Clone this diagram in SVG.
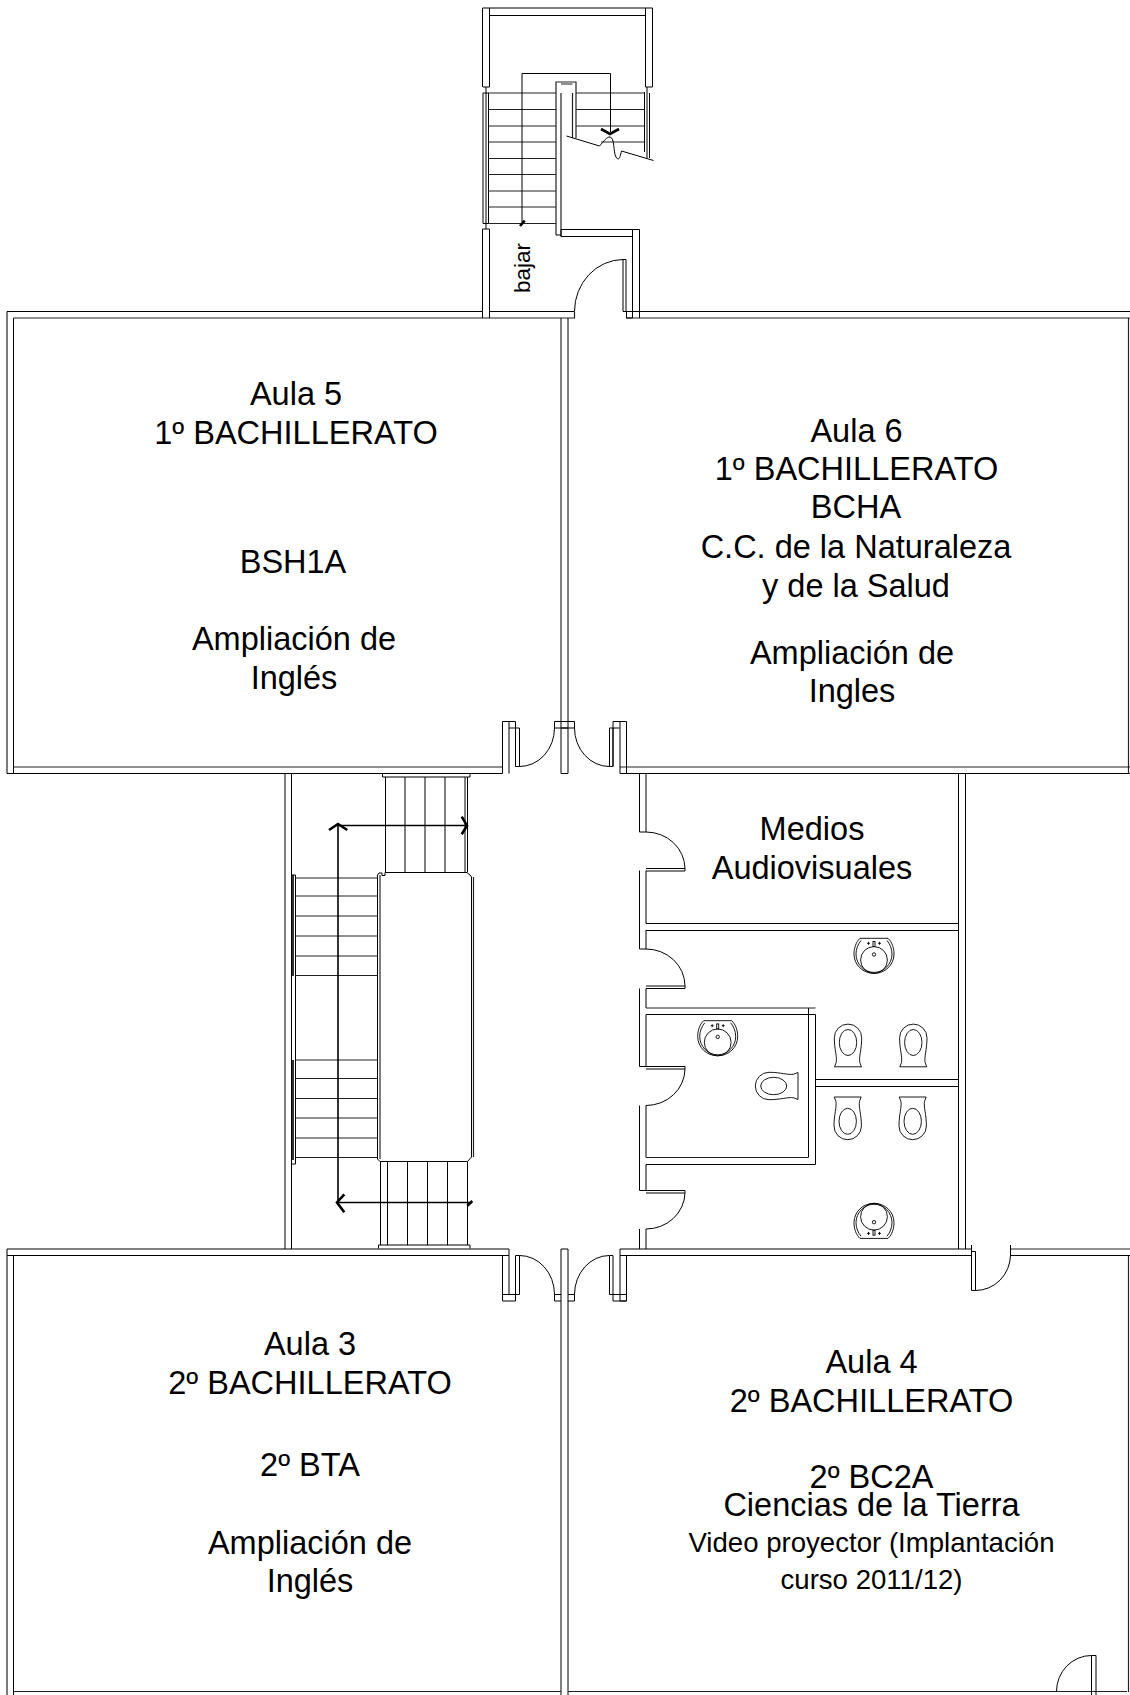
<svg xmlns="http://www.w3.org/2000/svg" width="1130" height="1695" viewBox="0 0 1130 1695">
<style>
.l{fill:none;stroke:#000;stroke-width:1}
.g{fill:none;stroke:#222;stroke-width:1.2}
.t{fill:none;stroke:#222;stroke-width:1}
.h{fill:none;stroke:#000;stroke-width:1.6}
.a{fill:none;stroke:#000;stroke-width:2.6}
text{font-family:"Liberation Sans",Arial,sans-serif;font-size:32.5px;fill:#000;text-anchor:middle}
.s{font-size:27.6px}
</style>
<defs>
<g id="sink" class="l" style="stroke-width:.9">
<path d="M-14,-21.7H14C18,-18 20,-12 20,-6C20,5 11,13.4 0,13.4C-11,13.4 -20,5 -20,-6C-20,-12 -18,-18 -14,-21.7Z"/>
<path d="M-13,-19.5C-16,-16 -18,-11 -18,-6C-18,4 -10,12.4 0,12.4C10,12.4 18,4 18,-6C18,-11 16,-16 13,-19.5"/>
<circle r="13.4"/>
<circle cy="-5.5" r="1.7"/>
<path d="M-7,-16.7H-4M-5.5,-18.2V-15.2M4,-16.7H7M5.5,-18.2V-15.2"/>
<rect x="-1" y="-18.5" width="2" height="5"/>
</g>
<g id="wc" class="l" style="stroke-width:.9">
<path d="M-13.5,-24.3H13.5L11.8,-20C10.8,-14 13.7,-7 13.7,4.7A13.7,13.7 0 0 1 -13.7,4.7C-13.7,-7 -10.8,-14 -11.8,-20Z"/>
<ellipse rx="8.7" ry="13"/>
</g>
</defs>
<g id="walls">
<path class="g" d="M7,311.5V773.5"/>
<path class="l" d="M7,773.5H502.5M13.5,318V773.5M7,311.5H482.5"/>
<path class="g" d="M13.5,318H574.5V312"/>
<path class="l" d="M489.5,311.5H574.5M626,311.5H1130"/>
<path class="g" d="M626,318H1130"/>
<path class="g" d="M13.5,767H502.5"/>
<path class="l" d="M561,318V773.5H568V318"/>
<path class="l" d="M620,773.5H1130"/>
<path class="g" d="M620,767H1130"/>
<path class="g" d="M1128.5,318V773M1128.5,1256V1692"/>
<path class="l" d="M285,773.5V1249M291.5,773.5V1249"/>
<path class="l" d="M639.5,773.5V832H646M646,773.5V832M639.5,870.5V949H646M646,870.5V923.5M646,930V949M639.5,988.5V1066.5H646M646,988.5V1008M646,1014.5V1066.5M639.5,1105.5V1190.5H646M646,1105.5V1157.5M646,1164.5V1190.5M639.5,1229V1249M646,1229V1249"/>
<path class="l" d="M958.5,773.5V1249M965.5,773.5V1249"/>
<path class="l" d="M646,923.5H958.5M646,930.5H958.5"/>
<path class="l" d="M646,1014.5H815.5V1164.5H646M808.5,1008V1157.5"/>
<path class="g" d="M646,1008H815.5M646,1157.5H808.5"/>
<path class="l" d="M815.5,1079.5H958.5M815.5,1086.5H958.5"/>
<path class="l" d="M509,1255.5H7M13.5,1255.5V1695"/>
<path class="g" d="M7,1249V1695"/>
<path class="l" d="M7,1249H509V1255.5"/>
<path class="g" d="M1010.5,1249H1130"/>
<path class="l" d="M1010.5,1255.5H1130"/>
<path class="l" d="M620,1249H972M620,1249V1255.5H972M620,1255.5V1301H626.5V1255.5"/>
<path class="l" d="M561,1695V1249H568V1695"/>
<path class="t" d="M13.5,1691.5H561M568,1691.5H1127"/>
</g>
<g id="doors">
<path class="l" d="M502.5,721.5H515.5V766.5M502.5,721.5V773.5M509,721.5V773.5M509,728H519.5V766.5H515.5"/>
<path class="l" d="M519.5,766.5A35,38.5 0 0 0 554.5,728"/>
<path class="l" d="M554.5,721.5H574.5V728H554.5ZM568,728H561"/>
<path class="l" d="M574.5,728A35,38.5 0 0 0 609.5,766.5H613V728H619.5M609.5,766.5V728H613M613,721.5H626.5V773.5M620,721.5V773.5M613,721.5V766.5"/>
<path class="l" d="M574.5,311.5A49,52 0 0 1 623,259.5H626V311.5H626.5V318H632.5M623,259.5V311.5H626"/>
<path class="l" d="M646,832A39,37 0 0 1 685,868.5V871H646M646,868.5H685"/>
<path class="l" d="M646,949A39,37 0 0 1 685,985.5V988.5H646M646,986H685"/>
<path class="l" d="M646,1105.5A39,37 0 0 0 685,1069V1066.5H646M646,1069H685"/>
<path class="l" d="M646,1229A39,37 0 0 0 685,1193V1190.5H646M646,1193H685"/>
<path class="l" d="M502.5,1255.5V1301H515.5V1255.5M509,1255.5V1294.5M502.5,1294.5H519.5V1255.5H515.5"/>
<path class="l" d="M519.5,1255.5A35,39 0 0 1 554.5,1294.5V1301H561M554.5,1294.5H561"/>
<path class="l" d="M574.5,1294.5A35,39 0 0 1 609.5,1255.5H613V1294.5H626.5M609.5,1255.5V1294.5H613M613,1294.5V1301H626.5M574.5,1294.5V1301H568M574.5,1294.5H568"/>
<path class="l" d="M971.5,1245V1290.5H975.5V1251.5H971.5"/>
<path class="l" d="M975.5,1290.5A35,36 0 0 0 1010.5,1255V1245"/>
<path class="l" d="M1056.5,1691.5A35,36 0 0 1 1091.5,1655.5H1096V1695M1091.5,1655.5V1695"/>
</g>
<g id="stair-top">
<path class="l" d="M482.5,311.5V229H489.5V318M482.5,318V311.5"/>
<path class="l" d="M482.5,87V8H652.5V87M489.5,8V87H483M489.5,15.5H645.5M645.5,8V87H652.5"/>
<path class="l" d="M483,93V223.5H488.5V93ZM486,87V229"/>
<path class="g" d="M556,235V82H576V138M561,235V93M572.5,138V93M561,84H572.5"/>
<path class="l" d="M556,235H561V236.5H632.5M561,229.5V236.5M561,229.5H639.5V318M632.5,229.5V318"/>
<path class="l" d="M644.5,92V152M649.5,93V158M647,87V158"/>
<path class="t" d="M488,93H556M488,109.5H556M488,126H556M488,142H556M488,158.5H556M488,174.5H556M488,191H556M488,207H556M488,223.5H556"/>
<path class="t" d="M576,93H644M576,109.5H644M576,126H644M601,142H644"/>
<path class="l" d="M566.5,136L599.5,146C604,141 607,136.5 610,137C615,138 613,152 616,157C619,162 620,157 621.5,151L653.5,160.5"/>
<path class="l" d="M522,222V73.5H610.5V132"/>
<path class="a" d="M601,129L610,134L619,129"/>
<path class="a" d="M520,226L524.7,220.7"/>
<text transform="translate(530,268) rotate(-90)" style="font-size:22.5px">bajar</text>
</g>
<g id="stair-main">
<path class="l" d="M382.5,777V773.5H470V777ZM385.5,777V872M405,777V872M425,777V872M445,777V872M465,777V872M467.5,777V872"/>
<path class="l" d="M377.5,1159V875M380,1159V875M471.5,1157V877M377.5,875L379,873H382V875.5H385V872.5H467L470,875L471.5,877"/>
<path class="g" d="M473.5,877V1157"/>
<path class="l" d="M377.5,1159L380,1161.5H467.5L471.5,1157"/>
<path class="l" d="M380.5,1161.5V1245M387.5,1161.5V1245M407.5,1161.5V1245M427.5,1161.5V1245M447.5,1161.5V1245M467.5,1161.5V1245"/>
<path class="l" d="M378.5,1248.5V1245H470V1248.5"/>
<path class="l" d="M291.5,875H295.5V1164H291.5Z"/>
<path class="h" d="M293,875V976M293,1060V1160"/>
<path class="t" d="M295.5,878H377.5M295.5,896H377.5M295.5,916H377.5M295.5,936H377.5M295.5,956H377.5M295.5,975.5H377.5M295.5,1060H377.5M295.5,1078.5H377.5M295.5,1098.5H377.5M295.5,1118H377.5M295.5,1138H377.5M295.5,1157.5H377.5"/>
<path class="h" d="M338,824V1202M338,825.5H467M336,1202.5H472"/>
<path class="a" d="M329,830L338,824L347.3,830"/>
<path class="a" d="M461.7,816.7L467,825.7L461.7,834.3"/>
<path class="a" d="M344.3,1194.3L337,1202.5L344.3,1212.3"/>
<path class="a" d="M467.3,1205.7L472.3,1201"/>
</g>
<g id="fixtures">
<use href="#sink" transform="translate(874,960)"/>
<use href="#sink" transform="translate(717.7,1042.4)"/>
<use href="#sink" transform="translate(874,1216.7) scale(1,-1)"/>
<use href="#wc" transform="translate(848,1042.5) scale(1,-1)"/>
<use href="#wc" transform="translate(913.3,1042.5) scale(1,-1)"/>
<use href="#wc" transform="translate(847.7,1121.3)"/>
<use href="#wc" transform="translate(912.7,1121.3)"/>
<use href="#wc" transform="translate(773.7,1086) rotate(90)"/>
</g>
<g id="aula5"><text x="296" y="405">Aula 5</text><text x="296" y="443.5">1º BACHILLERATO</text><text x="293" y="573">BSH1A</text><text x="294" y="650">Ampliación de</text><text x="294" y="689">Inglés</text></g>
<g id="aula6"><text x="856.5" y="441.5">Aula 6</text><text x="856.5" y="479.5">1º BACHILLERATO</text><text x="856" y="518">BCHA</text><text x="856" y="558">C.C. de la Naturaleza</text><text x="856" y="596.5">y de la Salud</text><text x="852" y="664">Ampliación de</text><text x="852" y="702">Ingles</text></g>
<g id="medios"><text x="812" y="840">Medios</text><text x="812" y="879">Audiovisuales</text></g>
<g id="aula3"><text x="310" y="1355">Aula 3</text><text x="310" y="1394">2º BACHILLERATO</text><text x="310" y="1476">2º BTA</text><text x="310" y="1554">Ampliación de</text><text x="310" y="1592">Inglés</text></g>
<g id="aula4"><text x="871.5" y="1373">Aula 4</text><text x="871.5" y="1412">2º BACHILLERATO</text><text x="871.5" y="1488">2º BC2A</text><text x="871.5" y="1516">Ciencias de la Tierra</text><text x="871.5" y="1552" class="s">Video proyector (Implantación</text><text x="871.5" y="1589" class="s">curso 2011/12)</text></g>
</svg>
